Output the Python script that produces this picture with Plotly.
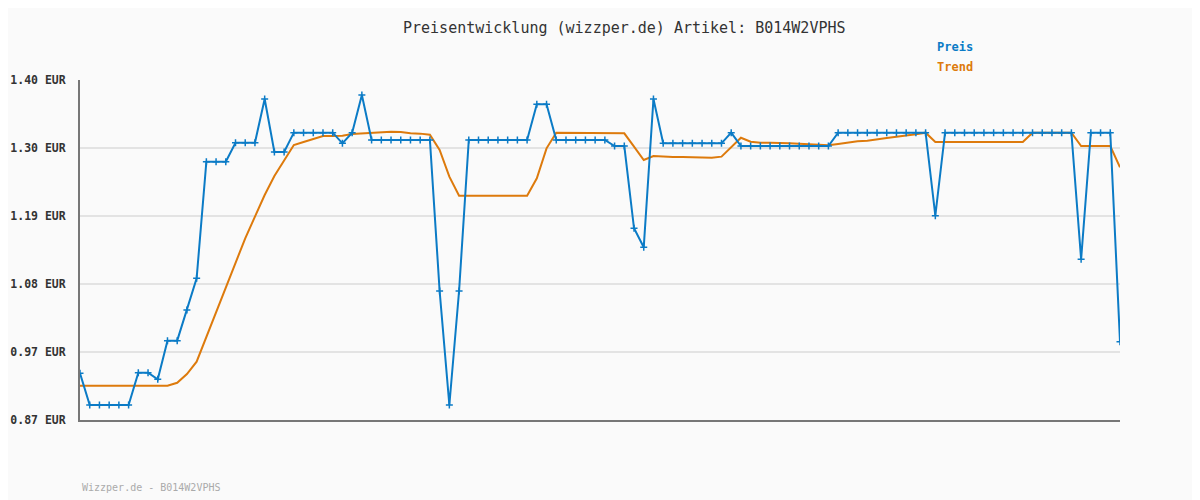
import plotly.graph_objects as go

preis = [0.9428, 0.8934, 0.8934, 0.8934, 0.8934, 0.8934, 0.9438, 0.9438, 0.9334, 0.9937,
         0.9937, 1.0415, 1.0909, 1.2727, 1.2727, 1.2727, 1.3023, 1.3023, 1.3023, 1.3704,
         1.2878, 1.2878, 1.3179, 1.3179, 1.3179, 1.3179, 1.3179, 1.3013, 1.3179, 1.3766,
         1.3065, 1.3065, 1.3065, 1.3065, 1.3065, 1.3065, 1.3065, 1.0711, 0.8934, 1.0711,
         1.3065, 1.3065, 1.3065, 1.3065, 1.3065, 1.3065, 1.3065, 1.3621, 1.3621, 1.3065,
         1.3065, 1.3065, 1.3065, 1.3065, 1.3065, 1.2971, 1.2971, 1.1688, 1.1392, 1.3704,
         1.3013, 1.3013, 1.3013, 1.3013, 1.3013, 1.3013, 1.3013, 1.3179, 1.2971, 1.2971,
         1.2971, 1.2971, 1.2971, 1.2971, 1.2971, 1.2971, 1.2971, 1.2971, 1.3179, 1.3179,
         1.3179, 1.3179, 1.3179, 1.3179, 1.3179, 1.3179, 1.3179, 1.3179, 1.1885, 1.3179,
         1.3179, 1.3179, 1.3179, 1.3179, 1.3179, 1.3179, 1.3179, 1.3179, 1.3179, 1.3179,
         1.3179, 1.3179, 1.3179, 1.1205, 1.3179, 1.3179, 1.3179, 0.9921]

trend = [0.9235, 0.9235, 0.9235, 0.9235, 0.9235, 0.9235, 0.9235, 0.9235, 0.9235, 0.9235,
         0.9280, 0.9417, 0.9609, 0.9999, 1.0388, 1.0778, 1.1168, 1.1532, 1.1869, 1.2207,
         1.2504, 1.2753, 1.2987, 1.3034, 1.3080, 1.3127, 1.3129, 1.3130, 1.3158, 1.3169,
         1.3179, 1.3189, 1.3195, 1.3189, 1.3169, 1.3164, 1.3148, 1.2909, 1.2493, 1.2197,
         1.2197, 1.2197, 1.2197, 1.2197, 1.2197, 1.2197, 1.2197, 1.2467, 1.2935, 1.3179,
         1.3179, 1.3179, 1.3179, 1.3179, 1.3179, 1.3179, 1.3169, 1.2961, 1.2753, 1.2815,
         1.2805, 1.2800, 1.2800, 1.2800, 1.2789, 1.2789, 1.2805, 1.2950, 1.3100, 1.3038,
         1.3023, 1.3023, 1.3023, 1.3013, 1.3008, 1.3003, 1.2992, 1.2982, 1.3003, 1.3028,
         1.3044, 1.3054, 1.3070, 1.3096, 1.3116, 1.3132, 1.3153, 1.3179, 1.3034, 1.3034,
         1.3034, 1.3034, 1.3034, 1.3034, 1.3034, 1.3034, 1.3034, 1.3034, 1.3179, 1.3179,
         1.3179, 1.3179, 1.3179, 1.2971, 1.2971, 1.2971, 1.2971, 1.2639]

y_ticks = [0.87, 0.976, 1.082, 1.188, 1.294, 1.40]
y_labels = ["0.87 EUR", "0.97 EUR", "1.08 EUR", "1.19 EUR", "1.30 EUR", "1.40 EUR"]

x = list(range(len(preis)))

BLUE = "#0b7bc6"
ORANGE = "#dd7a0c"
MONO = "DejaVu Sans Mono"

# page body has an 8px margin; compensate so the plot lands at 80..1120 / 80..420
OFF = 8
W, H = 1200 - OFF, 500 - OFF
PL, PT = 80 - OFF, 80 - OFF
PW, PH = 1040, 340

fig = go.Figure()
fig.add_trace(go.Scatter(x=x, y=trend, mode="lines", name="Trend",
                         line=dict(color=ORANGE, width=2)))
fig.add_trace(go.Scatter(x=x, y=preis, mode="lines+markers", name="Preis",
                         line=dict(color=BLUE, width=2),
                         marker=dict(symbol="cross-thin", size=5,
                                     line=dict(color=BLUE, width=1.5))))

fig.update_layout(
    width=W, height=H,
    paper_bgcolor="#fafafa", plot_bgcolor="#fafafa",
    margin=dict(l=PL, r=W - PL - PW, t=PT, b=H - PT - PH, autoexpand=False),
    showlegend=False,
    font=dict(family=MONO, color="#333333"),
)
fig.update_xaxes(range=[0, len(preis) - 1], showgrid=False, zeroline=False,
                 showticklabels=False, ticks="", showline=True, automargin=False,
                 linecolor="#777777", linewidth=2)
fig.update_yaxes(range=[0.87, 1.40], tickvals=y_ticks, ticktext=y_labels,
                 showgrid=True, gridcolor="#e3e3e3", gridwidth=2, zeroline=False,
                 ticks="", showline=True, linecolor="#777777", linewidth=2,
                 ticklabelstandoff=10, automargin=False,
                 tickfont=dict(family=MONO, size=11.5, color="#333333", weight="bold"))

fig.add_annotation(text="Preisentwicklung (wizzper.de) Artikel: B014W2VPHS",
                   xref="paper", yref="paper", x=(624 - 80) / PW, y=1 + (80 - 28) / PH,
                   showarrow=False, xanchor="center", yanchor="middle",
                   font=dict(family=MONO, size=15, color="#333333"))
fig.add_annotation(text="<b>Preis</b>", xref="paper", yref="paper",
                   x=(975 - 80) / PW, y=1 + (80 - 47) / PH, showarrow=False,
                   xanchor="right", yanchor="middle",
                   font=dict(family=MONO, size=12, color=BLUE))
fig.add_annotation(text="<b>Trend</b>", xref="paper", yref="paper",
                   x=(975 - 80) / PW, y=1 + (80 - 67) / PH, showarrow=False,
                   xanchor="right", yanchor="middle",
                   font=dict(family=MONO, size=12, color=ORANGE))
fig.add_annotation(text="Wizzper.de - B014W2VPHS", xref="paper", yref="paper",
                   x=0, y=-(487 - 420) / PH, showarrow=False,
                   xanchor="left", yanchor="middle",
                   font=dict(family=MONO, size=10, color="#aaaaaa"))

fig.write_html("out.html")
